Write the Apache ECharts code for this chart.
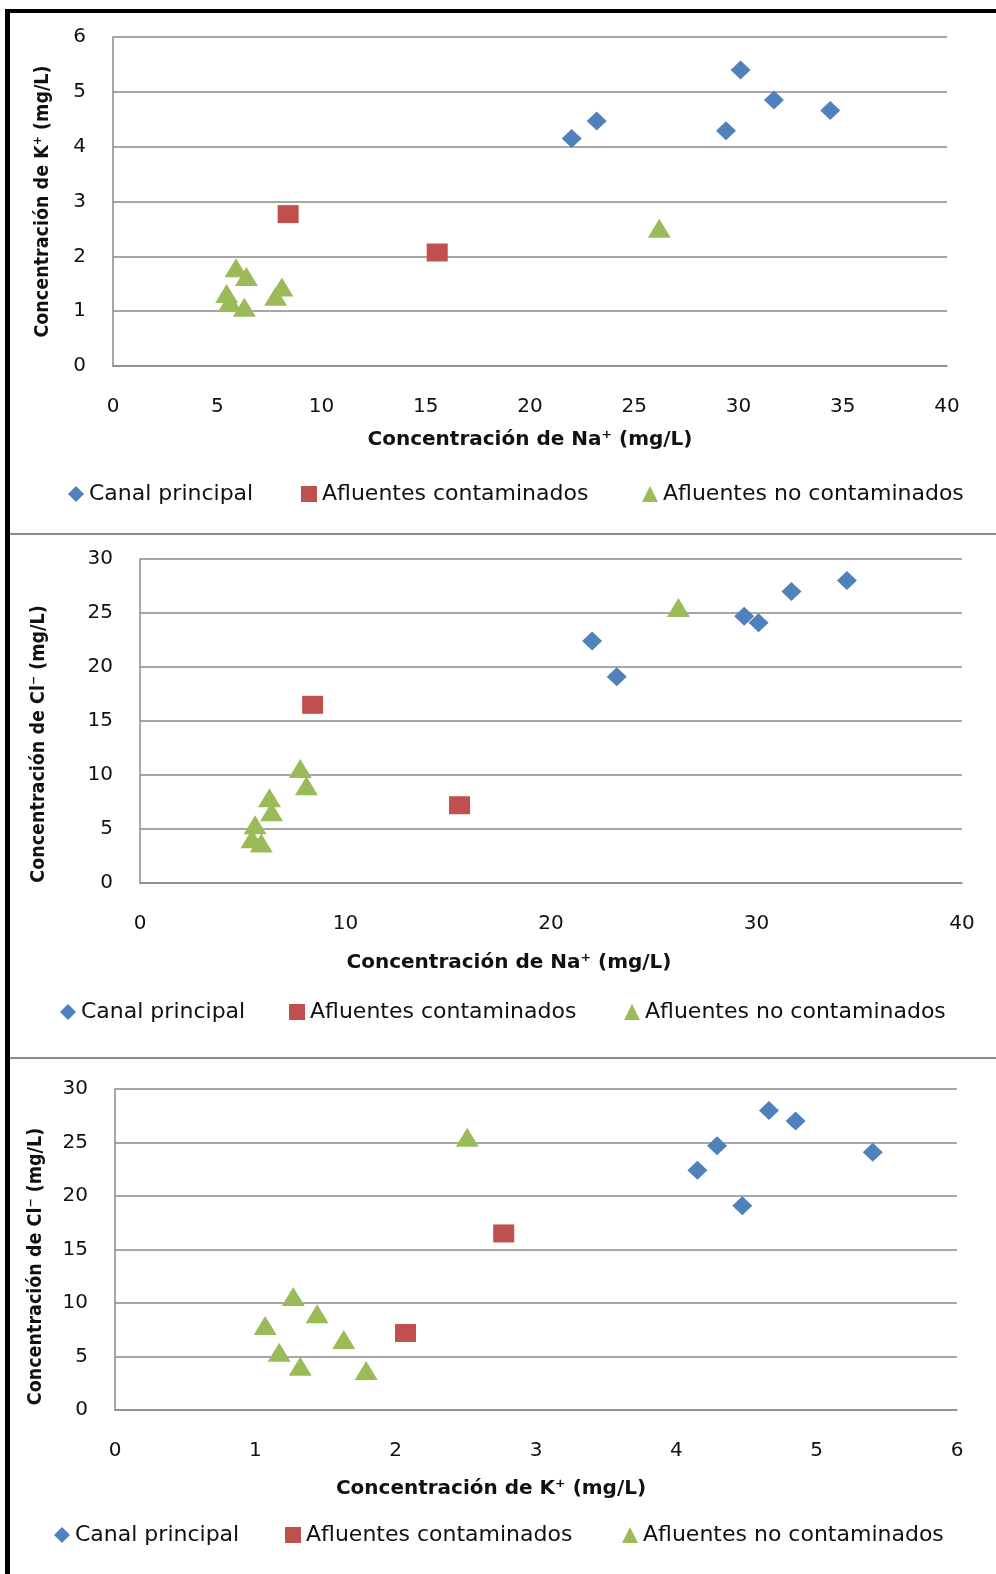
<!DOCTYPE html>
<html>
<head>
<meta charset="utf-8">
<script src="https://cdn.jsdelivr.net/npm/echarts@6/dist/echarts.min.js"></script>
<style>
  html, body { margin: 0; padding: 0; background: #fff; }
  #chart { width: 996px; height: 1574px; }
</style>
</head>
<body>
<div id="chart"></div>
<script>
// Muestras por grupo: Na+, K+ y Cl- (mg/L)
const canalNa = [22.0, 23.2, 29.4, 30.1, 31.7, 34.4];
const canalK  = [4.15, 4.47, 4.29, 5.40, 4.85, 4.66];
const canalCl = [22.4, 19.1, 24.7, 24.1, 27.0, 28.0];

const contNa = [8.4, 15.55];
const contK  = [2.77, 2.07];
const contCl = [16.5, 7.2];

const noContNa = [7.8, 8.1, 6.3, 6.4, 5.6, 5.45, 5.9, 26.2];
const noContK  = [1.27, 1.44, 1.07, 1.63, 1.17, 1.32, 1.79, 2.51];
const noContCl = [10.6, 9.0, 7.9, 6.6, 5.4, 4.1, 3.7, 25.5];

const seriesNames = ['Canal principal', 'Afluentes contaminados', 'Afluentes no contaminados'];
const axisTitles = {
  na: 'Concentración de Na⁺ (mg/L)',
  k: 'Concentración de K⁺ (mg/L)',
  cl: 'Concentración de Cl⁻ (mg/L)'
};

const pair = (xs, ys) => xs.map((x, i) => [x, ys[i]]);

const COLORS = ['#4F81BD', '#C0504D', '#9BBB59'];
const SYMBOLS = ['diamond', 'rect', 'triangle'];
const SIZES = [[20, 19], [21, 18], [23, 19]];
const GRID_COLOR = '#8a8a8a';
const FONT = 'DejaVu Sans, Verdana, sans-serif';
const FONT_COND = '"DejaVu Sans Condensed", "Liberation Sans Narrow", "DejaVu Sans", sans-serif';

// three panels: [x data, y data] per group
const panels = [
  {
    grid: { left: 113, right: 49, top: 37, height: 329 },
    x: { max: 40, interval: 5, name: axisTitles.na, gap: 64, pad: [0, 0, 0, 0] },
    y: { max: 6, interval: 1, name: axisTitles.k, gap: 60, pad: [0, 0, 0, 0] },
    data: [pair(canalNa, canalK), pair(contNa, contK), pair(noContNa, noContK)],
    legendTop: 478, legendLeft: [63, 296, 637]
  },
  {
    grid: { left: 140, right: 34, top: 559, height: 324 },
    x: { max: 40, interval: 10, name: axisTitles.na, gap: 70, pad: [0, 84, 0, 0] },
    y: { max: 30, interval: 5, name: axisTitles.cl, gap: 91, pad: [0, 46, 0, 0] },
    data: [pair(canalNa, canalCl), pair(contNa, contCl), pair(noContNa, noContCl)],
    legendTop: 996, legendLeft: [55, 284, 619]
  },
  {
    grid: { left: 115, right: 39, top: 1089, height: 321 },
    x: { max: 6, interval: 1, name: axisTitles.k, gap: 69, pad: [0, 90, 0, 0] },
    y: { max: 30, interval: 5, name: axisTitles.cl, gap: 69, pad: [0, 34, 0, 0] },
    data: [pair(canalK, canalCl), pair(contK, contCl), pair(noContK, noContCl)],
    legendTop: 1519, legendLeft: [49, 280, 617]
  }
];

const option = {
  animation: false,
  backgroundColor: '#fff',
  grid: [], xAxis: [], yAxis: [], series: [], legend: [],
  graphic: [
    // outer frame
    { type: 'rect', shape: { x: 5, y: 9, width: 991, height: 4 }, style: { fill: '#000' } },
    { type: 'rect', shape: { x: 5, y: 9, width: 5, height: 1565 }, style: { fill: '#000' } },
    // panel separators
    { type: 'rect', shape: { x: 10, y: 533, width: 986, height: 2 }, style: { fill: '#8a8a8a' } },
    { type: 'rect', shape: { x: 10, y: 1057, width: 986, height: 2 }, style: { fill: '#8a8a8a' } }
  ]
};

panels.forEach((p, i) => {
  option.grid.push(Object.assign({ containLabel: false }, p.grid));
  option.xAxis.push({
    gridIndex: i, type: 'value', min: 0, max: p.x.max, interval: p.x.interval,
    name: p.x.name, nameLocation: 'middle', nameGap: p.x.gap,
    nameTextStyle: { fontFamily: FONT, fontWeight: 'bold', fontSize: 20, color: '#111', padding: p.x.pad },
    axisLine: { show: true, lineStyle: { color: GRID_COLOR, width: 1.5 } },
    axisTick: { show: false },
    axisLabel: { fontFamily: FONT, fontSize: 20, color: '#111', margin: 31 },
    splitLine: { show: false }
  });
  option.yAxis.push({
    gridIndex: i, type: 'value', min: 0, max: p.y.max, interval: p.y.interval,
    name: p.y.name, nameLocation: 'middle', nameGap: p.y.gap,
    nameTextStyle: { fontFamily: FONT_COND, fontWeight: 'bold', fontSize: 19.5, color: '#111', padding: p.y.pad },
    axisLine: { show: true, lineStyle: { color: GRID_COLOR, width: 1.5 } },
    axisTick: { show: false },
    axisLabel: { fontFamily: FONT, fontSize: 20, color: '#111', margin: 27 },
    splitLine: { show: true, lineStyle: { color: GRID_COLOR, width: 1.5 } }
  });
  p.data.forEach((d, s) => {
    option.series.push({
      type: 'scatter', name: seriesNames[s], xAxisIndex: i, yAxisIndex: i,
      symbol: SYMBOLS[s], symbolSize: SIZES[s],
      itemStyle: { color: COLORS[s], opacity: 1 },
      data: d
    });
  });
  seriesNames.forEach((n, s) => {
    option.legend.push({
      left: p.legendLeft[s], top: p.legendTop, orient: 'horizontal',
      data: [{ name: n, icon: SYMBOLS[s] }],
      itemWidth: 16, itemHeight: 16, itemGap: 0,
      textStyle: { fontFamily: FONT, fontSize: 22, color: '#111', padding: [0, 0, 0, 0] },
      selectedMode: false
    });
  });
});

const chart = echarts.init(document.getElementById('chart'), null, { renderer: 'canvas' });
chart.setOption(option);
</script>
</body>
</html>
